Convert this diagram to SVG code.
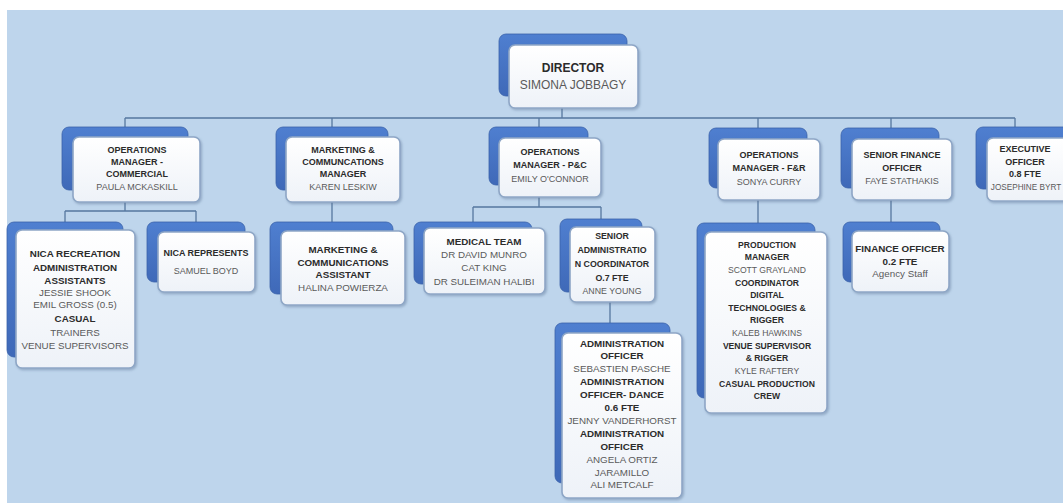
<svg xmlns="http://www.w3.org/2000/svg" width="1063" height="503" viewBox="0 0 1063 503">
<defs>
<linearGradient id="wg" x1="0" y1="0" x2="0" y2="1">
<stop offset="0" stop-color="#ffffff"/>
<stop offset="1" stop-color="#eef2f8"/>
</linearGradient>
<linearGradient id="bg" x1="0" y1="0" x2="0" y2="1">
<stop offset="0" stop-color="#4f7fd0"/>
<stop offset="1" stop-color="#3f69b8"/>
</linearGradient>
<filter id="sh" x="-10%" y="-10%" width="125%" height="125%">
<feDropShadow dx="1.2" dy="1.5" stdDeviation="1" flood-color="#5b7396" flood-opacity="0.45"/>
</filter>
</defs>
<style>
.back{fill:url(#bg);stroke:#3a62aa;stroke-width:0.8}
.front{fill:url(#wg);stroke:#8ea6c6;stroke-width:1.6;filter:url(#sh)}
.c{fill:none;stroke:#56779f;stroke-width:1.3}
text{font-family:"Liberation Sans",Arial,sans-serif;text-anchor:middle;dominant-baseline:central}
.t{font-weight:bold;fill:#2b2b2b}
.n{fill:#5a5a5a}
.s1{font-size:9px}
.s2{font-size:9.8px}
.s3{font-size:8.6px}
.s4{font-size:8.8px}
.s5{font-size:8.2px}
.s0{font-size:12px}
</style>
<rect x="0" y="0" width="1063" height="503" fill="#ffffff"/>
<rect x="7" y="10" width="1056" height="493" fill="#bed5ec"/>

<g id="connectors">
<path class="c" d="M562 108V118M125 118H1015M125 118V127M332 118V127M539 118V127M758 118V128M891 118V128M1015 118V127"/>
<path class="c" d="M125 202V211M65 211H196M65 211V222M196 211V222"/>
<path class="c" d="M332 202V222"/>
<path class="c" d="M539 197V207M473 207H601M473 207V222M601 207V219"/>
<path class="c" d="M758 200V223"/>
<path class="c" d="M891 200V222"/>
<path class="c" d="M610 302V323"/>
</g>

<g id="director">
<rect class="back" x="499" y="34" width="128" height="62" rx="7"/>
<rect class="front" x="509" y="45" width="129" height="63" rx="6"/>
<text class="t s0" x="573" y="68">DIRECTOR</text>
<text class="n s0" x="573" y="85">SIMONA JOBBAGY</text>
</g>

<g id="ops-commercial">
<rect class="back" x="62" y="127" width="126" height="63" rx="7"/>
<rect class="front" x="73" y="137" width="127" height="65" rx="6"/>
<text class="t s1" x="137" y="150">OPERATIONS</text>
<text class="t s1" x="137" y="162">MANAGER -</text>
<text class="t s1" x="137" y="174">COMMERCIAL</text>
<text class="n s1" x="137" y="187">PAULA MCKASKILL</text>
</g>

<g id="marketing-manager">
<rect class="back" x="276" y="127" width="112" height="63" rx="7"/>
<rect class="front" x="286" y="137" width="114" height="65" rx="6"/>
<text class="t s1" x="343" y="150">MARKETING &amp;</text>
<text class="t s1" x="343" y="162">COMMUNCATIONS</text>
<text class="t s1" x="343" y="174">MANAGER</text>
<text class="n s1" x="343" y="187">KAREN LESKIW</text>
</g>

<g id="ops-pc">
<rect class="back" x="489" y="127" width="99" height="58" rx="7"/>
<rect class="front" x="499" y="138" width="102" height="59" rx="6"/>
<text class="t s1" x="550" y="152">OPERATIONS</text>
<text class="t s1" x="550" y="165">MANAGER - P&amp;C</text>
<text class="n s1" x="550" y="179">EMILY O'CONNOR</text>
</g>

<g id="ops-fr">
<rect class="back" x="709" y="128" width="98" height="60" rx="7"/>
<rect class="front" x="718" y="139" width="102" height="61" rx="6"/>
<text class="t s1" x="769" y="155">OPERATIONS</text>
<text class="t s1" x="769" y="168">MANAGER - F&amp;R</text>
<text class="n s1" x="769" y="182">SONYA CURRY</text>
</g>

<g id="senior-finance">
<rect class="back" x="841" y="128" width="98" height="60" rx="7"/>
<rect class="front" x="852" y="139" width="100" height="61" rx="6"/>
<text class="t s1" x="902" y="155">SENIOR FINANCE</text>
<text class="t s1" x="902" y="168">OFFICER</text>
<text class="n s1" x="902" y="181">FAYE STATHAKIS</text>
</g>

<g id="executive-officer">
<rect class="back" x="976" y="127" width="95" height="62" rx="7"/>
<rect class="front" x="987" y="138" width="95" height="63" rx="6"/>
<text class="t s1" x="1025" y="149">EXECUTIVE</text>
<text class="t s1" x="1025" y="162">OFFICER</text>
<text class="t s1" x="1025" y="174">0.8 FTE</text>
<text class="n s5" x="1026" y="187">JOSEPHINE BYRT</text>
</g>

<g id="nica-recreation">
<rect class="back" x="7" y="222" width="116" height="135" rx="7"/>
<rect class="front" x="16" y="230" width="119" height="138" rx="6"/>
<text class="t s2" x="75" y="253">NICA RECREATION</text>
<text class="t s2" x="75" y="267">ADMINISTRATION</text>
<text class="t s2" x="75" y="280">ASSISTANTS</text>
<text class="n s2" x="75" y="292">JESSIE SHOOK</text>
<text class="n s2" x="75" y="304">EMIL GROSS (0.5)</text>
<text class="t s2" x="75" y="318">CASUAL</text>
<text class="n s2" x="75" y="332">TRAINERS</text>
<text class="n s2" x="75" y="345">VENUE SUPERVISORS</text>
</g>

<g id="nica-represents">
<rect class="back" x="147" y="222" width="98" height="60" rx="7"/>
<rect class="front" x="158" y="232" width="97" height="60" rx="6"/>
<text class="t s1" x="206" y="253">NICA REPRESENTS</text>
<text class="n s1" x="206" y="271">SAMUEL BOYD</text>
</g>

<g id="marketing-assistant">
<rect class="back" x="270" y="222" width="123" height="72" rx="7"/>
<rect class="front" x="281" y="231" width="124" height="74" rx="6"/>
<text class="t s2" x="343" y="249">MARKETING &amp;</text>
<text class="t s2" x="343" y="262">COMMUNICATIONS</text>
<text class="t s2" x="343" y="274">ASSISTANT</text>
<text class="n s2" x="343" y="287">HALINA POWIERZA</text>
</g>

<g id="medical-team">
<rect class="back" x="414" y="222" width="118" height="62" rx="7"/>
<rect class="front" x="424" y="228" width="121" height="66" rx="6"/>
<text class="t s2" x="484" y="241">MEDICAL TEAM</text>
<text class="n s2" x="484" y="254">DR DAVID MUNRO</text>
<text class="n s2" x="484" y="267">CAT KING</text>
<text class="n s2" x="484" y="281">DR SULEIMAN HALIBI</text>
</g>

<g id="senior-admin">
<rect class="back" x="560" y="219" width="82" height="73" rx="7"/>
<rect class="front" x="570" y="227" width="85" height="75" rx="6"/>
<text class="t s4" x="612" y="236">SENIOR</text>
<text class="t s4" x="612" y="250">ADMINISTRATIO</text>
<text class="t s4" x="612" y="264">N COORDINATOR</text>
<text class="t s4" x="612" y="278">O.7 FTE</text>
<text class="n s4" x="612" y="291">ANNE YOUNG</text>
</g>

<g id="admin-officers">
<rect class="back" x="555" y="323" width="115" height="160" rx="7"/>
<rect class="front" x="562" y="333" width="120" height="165" rx="6"/>
<text class="t s2" x="622" y="343">ADMINISTRATION</text>
<text class="t s2" x="622" y="355">OFFICER</text>
<text class="n s2" x="622" y="368">SEBASTIEN PASCHE</text>
<text class="t s2" x="622" y="381">ADMINISTRATION</text>
<text class="t s2" x="622" y="394">OFFICER- DANCE</text>
<text class="t s2" x="622" y="407">0.6 FTE</text>
<text class="n s2" x="622" y="420">JENNY VANDERHORST</text>
<text class="t s2" x="622" y="433">ADMINISTRATION</text>
<text class="t s2" x="622" y="446">OFFICER</text>
<text class="n s2" x="622" y="459">ANGELA ORTIZ</text>
<text class="n s2" x="622" y="472">JARAMILLO</text>
<text class="n s2" x="622" y="484">ALI METCALF</text>
</g>

<g id="production">
<rect class="back" x="697" y="223" width="118" height="175" rx="7"/>
<rect class="front" x="705" y="232" width="122" height="181" rx="6"/>
<text class="t s3" x="767" y="245">PRODUCTION</text>
<text class="t s3" x="767" y="257">MANAGER</text>
<text class="n s3" x="767" y="270">SCOTT GRAYLAND</text>
<text class="t s3" x="767" y="283">COORDINATOR</text>
<text class="t s3" x="767" y="295">DIGITAL</text>
<text class="t s3" x="767" y="308">TECHNOLOGIES &amp;</text>
<text class="t s3" x="767" y="320">RIGGER</text>
<text class="n s3" x="767" y="333">KALEB HAWKINS</text>
<text class="t s3" x="767" y="346">VENUE SUPERVISOR</text>
<text class="t s3" x="767" y="358">&amp; RIGGER</text>
<text class="n s3" x="767" y="371">KYLE RAFTERY</text>
<text class="t s3" x="767" y="384">CASUAL PRODUCTION</text>
<text class="t s3" x="767" y="396">CREW</text>
</g>

<g id="finance-officer">
<rect class="back" x="843" y="222" width="97" height="60" rx="7"/>
<rect class="front" x="852" y="231" width="97" height="61" rx="6"/>
<text class="t s2" x="900" y="248">FINANCE OFFICER</text>
<text class="t s2" x="900" y="261">0.2 FTE</text>
<text class="n s2" x="900" y="273">Agency Staff</text>
</g>
</svg>
